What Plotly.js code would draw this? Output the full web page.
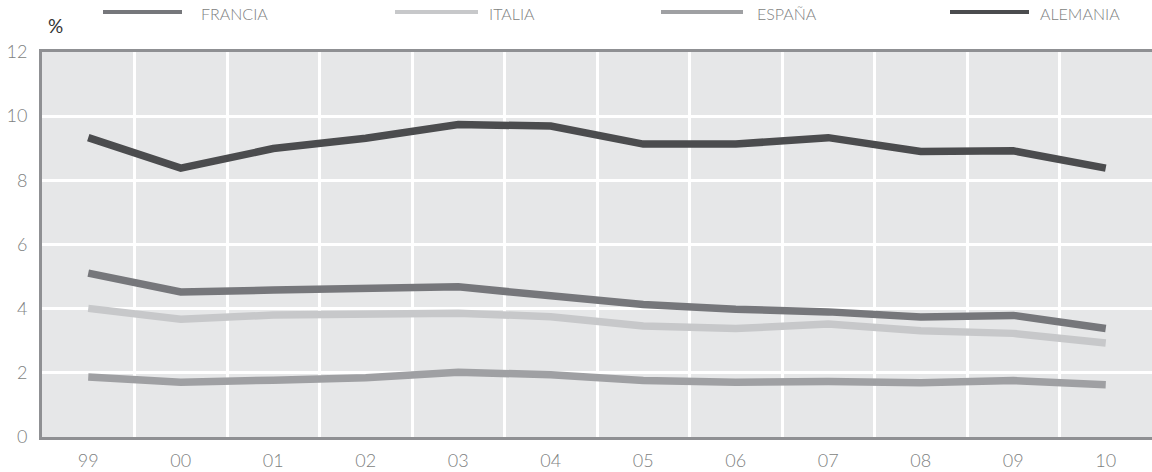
<!DOCTYPE html>
<html>
<head>
<meta charset="utf-8">
<script src="https://cdn.plot.ly/plotly-3.0.1.min.js"></script>
<style>
  html, body { margin: 0; padding: 0; background: #ffffff; }
  #chart { width: 1152px; height: 472px; }
</style>
</head>
<body>
<div id="chart"></div>
<script>
// Years (two-digit labels) and percentage series per country
const years = ["99", "00", "01", "02", "03", "04", "05", "06", "07", "08", "09", "10"];
const francia  = [5.11, 4.52, 4.58, 4.63, 4.68, 4.40, 4.13, 3.98, 3.90, 3.74, 3.79, 3.38];
const italia   = [4.01, 3.67, 3.80, 3.82, 3.86, 3.75, 3.46, 3.38, 3.52, 3.31, 3.23, 2.93];
const espana   = [1.87, 1.71, 1.77, 1.85, 2.02, 1.94, 1.76, 1.71, 1.73, 1.69, 1.76, 1.63];
const alemania = [9.33, 8.38, 8.99, 9.31, 9.74, 9.69, 9.13, 9.13, 9.33, 8.90, 8.92, 8.38];
const seriesNames = ["FRANCIA", "ITALIA", "ESPAÑA", "ALEMANIA"];
const yTicks = [0, 2, 4, 6, 8, 10, 12];

const colors = ["#76777b", "#c7c8ca", "#9fa0a3", "#4b4c4e"];
const allSeries = [francia, italia, espana, alemania];

const W = 1152, H = 472;
const M = { l: 42, r: 0, t: 52, b: 35 };
const plotW = W - M.l - M.r, plotH = H - M.t - M.b;
const px = x => (x - M.l) / plotW;          // pixel x -> paper x
const py = y => (H - M.b - y) / plotH;      // pixel y -> paper y

const FONT = "Lato, 'Open Sans', sans-serif";

const traces = allSeries.map((vals, i) => ({
  type: "scatter",
  mode: "lines",
  x: years,
  y: vals,
  name: seriesNames[i],
  line: { color: colors[i], width: 7.5 },
  showlegend: false,
  hoverinfo: "skip"
}));

// Custom legend: long line samples with labels along the top
const legendPos = [
  { x0: 103, x1: 182, tx: 199 },
  { x0: 395, x1: 478, tx: 487 },
  { x0: 661, x1: 743, tx: 755 },
  { x0: 950, x1: 1029, tx: 1038 }
];
const shapes = legendPos.map((p, i) => ({
  type: "line", xref: "paper", yref: "paper",
  x0: px(p.x0), x1: px(p.x1), y0: py(12), y1: py(12),
  line: { color: colors[i], width: 4 }
}));
const annotations = legendPos.map((p, i) => ({
  xref: "paper", yref: "paper",
  x: px(p.tx), y: py(13), xanchor: "left", yanchor: "middle",
  text: seriesNames[i], showarrow: false,
  font: { family: FONT, size: 16, weight: 300, color: "#7e7f81" }
}));
annotations.push({
  xref: "paper", yref: "paper",
  x: px(55), y: py(25), xanchor: "center", yanchor: "middle",
  text: "%", showarrow: false,
  font: { family: FONT, size: 19, weight: 400, color: "#333333" }
});

const layout = {
  width: W, height: H,
  margin: M,
  paper_bgcolor: "#ffffff",
  plot_bgcolor: "#e6e7e8",
  showlegend: false,
  font: { family: FONT, color: "#858688", size: 17 },
  xaxis: {
    type: "category",
    range: [-0.5, 11.5],
    tickson: "boundaries",
    showgrid: true, gridcolor: "#ffffff", gridwidth: 3,
    showline: true, linecolor: "#8f9093", linewidth: 3, mirror: true,
    ticks: "", ticklabelstandoff: 5,
    tickfont: { family: FONT, size: 18, weight: 300, color: "#7e7f81" },
    zeroline: false, fixedrange: true
  },
  yaxis: {
    range: [0, 12],
    tickvals: yTicks,
    ticktext: yTicks.map(String),
    showgrid: true, gridcolor: "#ffffff", gridwidth: 3,
    showline: true, linecolor: "#8f9093", linewidth: 3,
    ticks: "", ticklabelstandoff: 8,
    tickfont: { family: FONT, size: 18, weight: 300, color: "#7e7f81" },
    zeroline: false, fixedrange: true
  },
  shapes: shapes,
  annotations: annotations
};

Plotly.newPlot("chart", traces, layout, { displayModeBar: false, staticPlot: true });
</script>
</body>
</html>
